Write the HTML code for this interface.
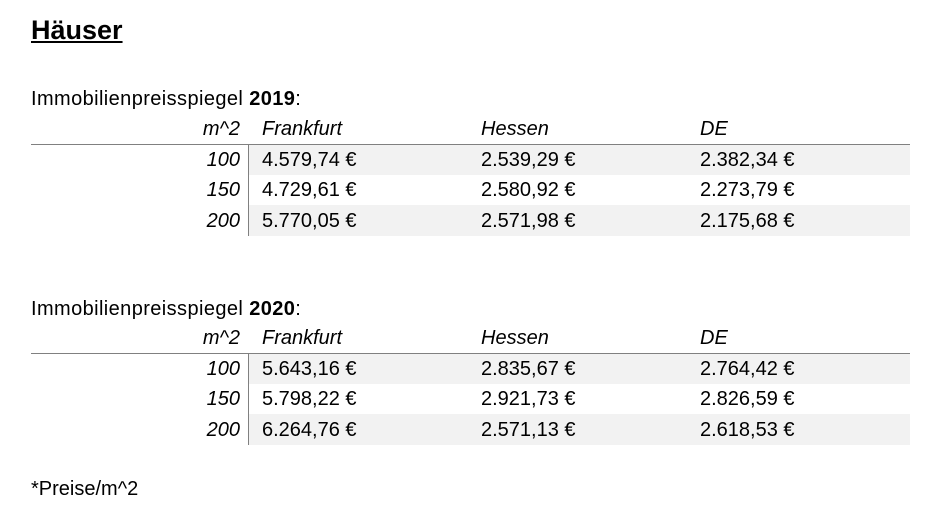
<!DOCTYPE html>
<html><head><meta charset="utf-8"><style>
body{margin:0;width:945px;height:531px;background:#fff;position:relative;overflow:hidden;font-family:"Liberation Sans",sans-serif;color:#000}
.a{position:absolute;white-space:nowrap;line-height:23px}
.t{font-size:20px}
.s{font-size:20px;letter-spacing:0.4px}
.i{font-style:italic}
.sh{position:absolute;left:249px;width:661px;height:30px;background:#f2f2f2}
.hl{position:absolute;left:31px;width:879px;height:1px;background:#808080}
.vl{position:absolute;left:248px;width:1px;background:#808080}
</style></head><body>
<div class="a" style="left:31px;top:15px;font-size:27px;line-height:30px;font-weight:bold;text-decoration:underline">Häuser</div>

<div>
<div class="a s" style="left:31px;top:88px">Immobilienpreisspiegel <b>2019</b>:</div>
<div class="sh" style="top:145px"></div><div class="sh" style="top:205px;height:31px"></div>
<div class="hl" style="top:144px"></div><div class="vl" style="top:145px;height:91px"></div>
<div class="a t i" style="right:705px;top:118px">m^2</div>
<div class="a t i" style="left:262px;top:118px">Frankfurt</div>
<div class="a t i" style="left:481px;top:118px">Hessen</div>
<div class="a t i" style="left:700px;top:118px">DE</div>
<div class="a t i" style="right:705px;top:149px">100</div><div class="a t" style="left:262px;top:149px">4.579,74 €</div><div class="a t" style="left:481px;top:149px">2.539,29 €</div><div class="a t" style="left:700px;top:149px">2.382,34 €</div>
<div class="a t i" style="right:705px;top:179px">150</div><div class="a t" style="left:262px;top:179px">4.729,61 €</div><div class="a t" style="left:481px;top:179px">2.580,92 €</div><div class="a t" style="left:700px;top:179px">2.273,79 €</div>
<div class="a t i" style="right:705px;top:210px">200</div><div class="a t" style="left:262px;top:210px">5.770,05 €</div><div class="a t" style="left:481px;top:210px">2.571,98 €</div><div class="a t" style="left:700px;top:210px">2.175,68 €</div>
</div>

<div>
<div class="a s" style="left:31px;top:298px">Immobilienpreisspiegel <b>2020</b>:</div>
<div class="sh" style="top:354px"></div><div class="sh" style="top:414px;height:31px"></div>
<div class="hl" style="top:353px"></div><div class="vl" style="top:354px;height:91px"></div>
<div class="a t i" style="right:705px;top:327px">m^2</div>
<div class="a t i" style="left:262px;top:327px">Frankfurt</div>
<div class="a t i" style="left:481px;top:327px">Hessen</div>
<div class="a t i" style="left:700px;top:327px">DE</div>
<div class="a t i" style="right:705px;top:358px">100</div><div class="a t" style="left:262px;top:358px">5.643,16 €</div><div class="a t" style="left:481px;top:358px">2.835,67 €</div><div class="a t" style="left:700px;top:358px">2.764,42 €</div>
<div class="a t i" style="right:705px;top:388px">150</div><div class="a t" style="left:262px;top:388px">5.798,22 €</div><div class="a t" style="left:481px;top:388px">2.921,73 €</div><div class="a t" style="left:700px;top:388px">2.826,59 €</div>
<div class="a t i" style="right:705px;top:419px">200</div><div class="a t" style="left:262px;top:419px">6.264,76 €</div><div class="a t" style="left:481px;top:419px">2.571,13 €</div><div class="a t" style="left:700px;top:419px">2.618,53 €</div>
</div>

<div class="a t" style="left:31px;top:478px">*Preise/m^2</div>
</body></html>
